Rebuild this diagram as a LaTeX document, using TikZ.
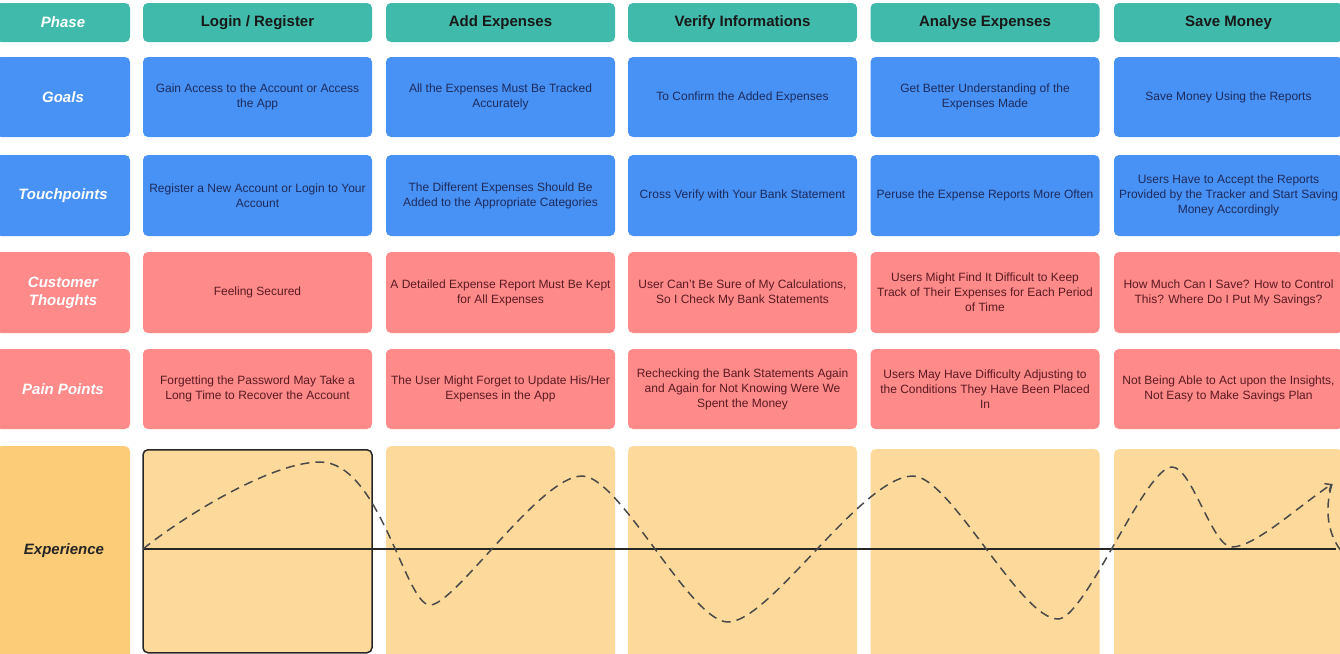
\documentclass[tikz,border=0pt]{standalone}
\usepackage{fontspec}
\setmainfont{Liberation Sans}
\usetikzlibrary{arrows.meta}

\definecolor{phaseteal}{HTML}{40BAAA}
\definecolor{goalblue}{HTML}{4891F5}
\definecolor{painpink}{HTML}{FF8A8A}
\definecolor{explabelfill}{HTML}{FDCC78}
\definecolor{expcellfill}{HTML}{FDDA9B}
\definecolor{navytext}{HTML}{1E2B5C}
\definecolor{maroontext}{HTML}{5A1A22}
\definecolor{curvegray}{HTML}{4A4A4A}

\begin{document}
\begin{tikzpicture}[x=1pt,y=-1pt,
  box/.style={rounded corners=5pt, inner sep=0pt, align=center, draw=none},
  headbox/.style={box, fill=phaseteal, minimum width=229pt, minimum height=39pt,
    font=\fontsize{15}{18}\selectfont\bfseries, text=black!90},
  rowlabel/.style={box, minimum width=134pt, font=\fontsize{15}{18}\selectfont\bfseries\itshape, text=white},
  bluecell/.style={box, fill=goalblue, text=navytext, minimum width=229pt, minimum height=81pt,
    font=\fontsize{12}{15}\selectfont},
  pinkcell/.style={box, fill=painpink, text=maroontext, minimum width=229pt, minimum height=80pt,
    font=\fontsize{12}{15}\selectfont},
  expcell/.style={box, fill=expcellfill, minimum width=229pt, minimum height=214pt, anchor=north},
  curve/.style={draw=curvegray, line width=1.5pt, dash pattern=on 9pt off 6pt},
  baseline/.style={draw=black!85, line width=1.8pt},
]
\path[use as bounding box] (0,0) rectangle (1340,653);
\clip (0,0) rectangle (1340,653);
\fill[white] (0,0) rectangle (1340,653);

% row labels
\node[rowlabel, fill=phaseteal, minimum height=39pt] (lphase) at (63,22.5) {Phase};
\node[rowlabel, fill=goalblue, minimum height=80pt] (lgoals) at (63,97) {Goals};
\node[rowlabel, fill=goalblue, minimum height=81pt] (ltouch) at (63,195.5) {Touchpoints};
\node[rowlabel, fill=painpink, minimum height=81pt] (lthought) at (63,292.5) {Customer\\Thoughts};
\node[rowlabel, fill=painpink, minimum height=80pt] (lpain) at (63,389) {Pain Points};
\node[box, fill=explabelfill, minimum width=134pt, minimum height=214pt, anchor=north] (lexp) at (63,446) {};
\node[font=\fontsize{15}{18}\selectfont\bfseries\itshape, text=black!85] (lexptext) at (64,550.5) {Experience};

% phase headers
\node[headbox] (h1) at (257.5,22.5) {Login / Register};
\node[headbox] (h2) at (500.5,22.5) {Add Expenses};
\node[headbox] (h3) at (742.5,22.5) {Verify Informations};
\node[headbox] (h4) at (985,22.5) {Analyse Expenses};
\node[headbox] (h5) at (1228.5,22.5) {Save Money};

% goals
\node[bluecell, minimum height=80pt] (g1) at (257.5,97) {Gain Access to the Account or Access\\the App};
\node[bluecell, minimum height=80pt] (g2) at (500.5,97) {All the Expenses Must Be Tracked\\Accurately};
\node[bluecell, minimum height=80pt] (g3) at (742.5,97) {To Confirm the Added Expenses};
\node[bluecell, minimum height=80pt] (g4) at (985,97) {Get Better Understanding of the\\Expenses Made};
\node[bluecell, minimum height=80pt] (g5) at (1228.5,97) {Save Money Using the Reports};

% touchpoints
\node[bluecell] (t1) at (257.5,195.5) {Register a New Account or Login to Your\\Account};
\node[bluecell] (t2) at (500.5,195.5) {The Different Expenses Should Be\\Added to the Appropriate Categories};
\node[bluecell] (t3) at (742.5,195.5) {Cross Verify with Your Bank Statement};
\node[bluecell] (t4) at (985,195.5) {Peruse the Expense Reports More Often};
\node[bluecell] (t5) at (1228.5,195.5) {Users Have to Accept the Reports\\Provided by the Tracker and Start Saving\\Money Accordingly};

% customer thoughts
\node[pinkcell, minimum height=81pt] (c1) at (257.5,292.5) {Feeling Secured};
\node[pinkcell, minimum height=81pt] (c2) at (500.5,292.5) {A Detailed Expense Report Must Be Kept\\for All Expenses};
\node[pinkcell, minimum height=81pt] (c3) at (742.5,292.5) {User Can't Be Sure of My Calculations,\\So I Check My Bank Statements};
\node[pinkcell, minimum height=81pt] (c4) at (985,292.5) {Users Might Find It Difficult to Keep\\Track of Their Expenses for Each Period\\of Time};
\node[pinkcell, minimum height=81pt] (c5) at (1228.5,292.5) {How Much Can I Save? How to Control\\This? Where Do I Put My Savings?};

% pain points
\node[pinkcell] (p1) at (257.5,389) {Forgetting the Password May Take a\\Long Time to Recover the Account};
\node[pinkcell] (p2) at (500.5,389) {The User Might Forget to Update His/Her\\Expenses in the App};
\node[pinkcell] (p3) at (742.5,389) {Rechecking the Bank Statements Again\\and Again for Not Knowing Were We\\Spent the Money};
\node[pinkcell] (p4) at (985,389) {Users May Have Difficulty Adjusting to\\the Conditions They Have Been Placed\\In};
\node[pinkcell] (p5) at (1228.5,389) {Not Being Able to Act upon the Insights,\\Not Easy to Make Savings Plan};

% experience cells
\node[expcell, draw=black!85, line width=1.5pt, minimum height=203pt] (e1) at (257.5,449) {};
\node[expcell] (e2) at (500.5,446) {};
\node[expcell] (e3) at (742.5,446) {};
\node[expcell] (e4) at (985,449) {};
\node[expcell] (e5) at (1228.5,449) {};

% experience baseline
\coordinate (s) at (143,549);
\coordinate (t) at (1336,549);
\draw[baseline] (s) -- (t);

% experience curve: peaks and troughs
\coordinate (k1) at (320,462);
\coordinate (n1) at (430,605);
\coordinate (k2) at (582,476);
\coordinate (n2) at (728,622);
\coordinate (k3) at (913,476);
\coordinate (n3) at (1058,619);
\coordinate (k4) at (1172,467);
\coordinate (n4) at (1232,547);
\coordinate (tip) at (1332,484);
\coordinate (tail) at (1342,552);

\draw[curve, -{Straight Barb[length=5pt,width=9pt]}]
  (s) .. controls (180,519) and (270,462) .. (k1)
      .. controls (380,462) and (405,605) .. (n1)
      .. controls (455,605) and (540,476) .. (k2)
      .. controls (620,476) and (690,622) .. (n2)
      .. controls (770,622) and (862,476) .. (k3)
      .. controls (950,476) and (1020,619) .. (n3)
      .. controls (1085,619) and (1145,467) .. (k4)
      .. controls (1192,467) and (1212,547) .. (n4)
      .. controls (1255,547) and (1300,505) .. (tip);
\draw[curve] (tip) .. controls (1324,510) and (1328,535) .. (tail);
\end{tikzpicture}
\end{document}
